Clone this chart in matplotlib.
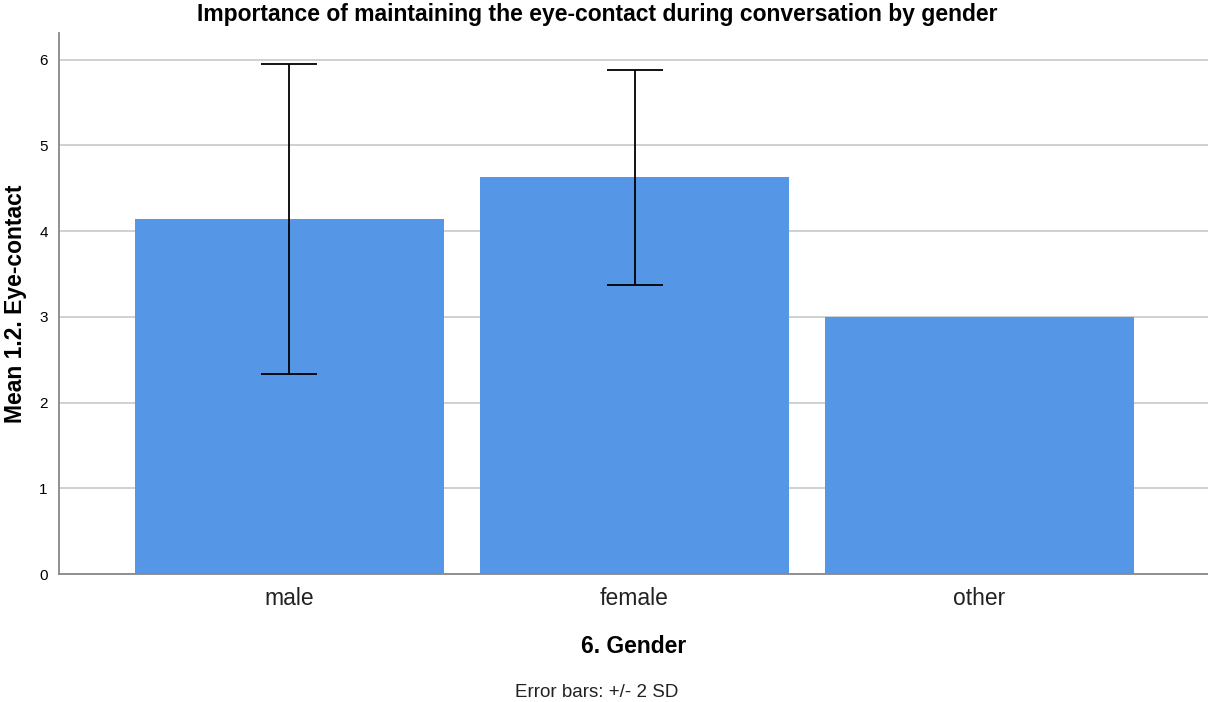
import matplotlib
matplotlib.use('Agg')
import matplotlib.pyplot as plt

plt.rcParams['font.family'] = ['Liberation Sans', 'DejaVu Sans']

# Данные
genders = ['male', 'female', 'other']
means = [4.14, 4.625, 3.0]
err_2sd = [1.81, 1.255, 0.0]

fig = plt.figure(figsize=(12.08, 7.02), dpi=100)
ax = fig.add_axes([0.0488, 0.1823, 0.9512, 0.7707])

x = list(range(len(genders)))
ax.bar(x, means, width=0.896, color='#5596E6', zorder=2)

# error bars only where SD is known
ex = [i for i, e in zip(x, err_2sd) if e > 0]
ey = [m for m, e in zip(means, err_2sd) if e > 0]
ee = [e for e in err_2sd if e > 0]
ax.errorbar(ex, ey, yerr=ee, fmt='none', ecolor='black', elinewidth=1.3,
            capsize=20, capthick=1.3, zorder=3)

ax.set_xlim(-0.668, 2.662)
ax.set_ylim(0, 6.31)
ax.set_yticks(range(0, 7))
ax.set_xticks(x)
ax.set_xticklabels(genders, fontsize=16.5, color='#222222')
ax.tick_params(axis='both', length=0)
ax.tick_params(axis='y', labelsize=11, pad=8)
ax.tick_params(axis='x', pad=9)

ax.yaxis.grid(True, color='#c8c8c8', linewidth=1.2, zorder=0)
ax.set_axisbelow(True)
for s in ['top', 'right']:
    ax.spines[s].set_visible(False)
for s in ['left', 'bottom']:
    ax.spines[s].set_color('#888888')
    ax.spines[s].set_linewidth(1.3)

fig.text(0.494, 0.979, 'Importance of maintaining the eye-contact during conversation by gender',
         ha='center', va='center', fontsize=16.5, fontweight='bold')
ax.set_ylabel('Mean 1.2. Eye-contact', fontsize=16.5, fontweight='bold', va='center')
ax.yaxis.set_label_coords(-0.0375, 0.5)
ax.set_xlabel('6. Gender', fontsize=16.5, fontweight='bold', labelpad=18)
fig.text(0.494, 0.014, 'Error bars: +/- 2 SD', ha='center', va='center', fontsize=13.5,
         color='#222222')

fig.savefig('out.png', dpi=100)
